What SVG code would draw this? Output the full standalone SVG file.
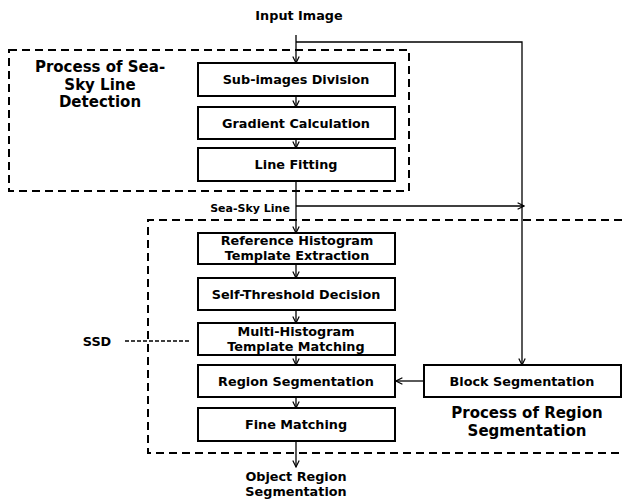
<svg xmlns="http://www.w3.org/2000/svg" width="622" height="500" viewBox="0 0 622 500">
<style>
text{font-family:"DejaVu Sans","Liberation Sans",sans-serif;font-weight:bold;fill:#000;text-anchor:middle}
.box{fill:#fff;stroke:#000;stroke-width:2}
.t{font-size:12.8px}
.title{font-size:15px}
.grp{fill:none;stroke:#000;stroke-width:2;stroke-dasharray:8 5}
.c{fill:none;stroke:#000;stroke-width:1.3}
</style>
<defs>
<marker id="a" viewBox="0 0 10 10" refX="9" refY="5" markerWidth="8" markerHeight="8" markerUnits="userSpaceOnUse" orient="auto">
<path d="M1,1 L9,5 L1,9" fill="none" stroke="#000" stroke-width="1.5"/>
</marker>
</defs>
<g id="groups">
<rect class="grp" x="9" y="50" width="400" height="141"/>
<path class="grp" d="M622,220 H148 V453 H622"/>
</g>
<g id="connectors">
<path class="c" d="M296,35 V63" marker-end="url(#a)"/>
<path class="c" d="M296,42 H522 V365" marker-end="url(#a)"/>
<path class="c" d="M296,96 V107" marker-end="url(#a)"/>
<path class="c" d="M296,139 V148" marker-end="url(#a)"/>
<path class="c" d="M296,181 V233" marker-end="url(#a)"/>
<path class="c" d="M296,206 H524" marker-end="url(#a)"/>
<path class="c" d="M296,264 V278" marker-end="url(#a)"/>
<path class="c" d="M296,310 V323" marker-end="url(#a)"/>
<path class="c" d="M296,355 V365" marker-end="url(#a)"/>
<path class="c" d="M296,397 V408" marker-end="url(#a)"/>
<path class="c" d="M296,441 V467" marker-end="url(#a)"/>
<path class="c" d="M424,381 H396" marker-end="url(#a)"/>
<path class="c" d="M125,341 H190" stroke-dasharray="4 2" stroke-width="1"/>
</g>
<g id="input"><text class="t" x="299" y="20">Input Image</text></g>
<g id="title1">
<text class="title" x="100" y="72">Process of Sea-</text>
<text class="title" x="100" y="89.5">Sky Line</text>
<text class="title" x="100" y="107">Detection</text>
</g>
<g id="subimages"><rect class="box" x="198" y="63" width="197" height="33"/><text class="t" x="296" y="84">Sub-images Division</text></g>
<g id="gradient"><rect class="box" x="198" y="107" width="197" height="32"/><text class="t" x="296" y="127.5">Gradient Calculation</text></g>
<g id="linefit"><rect class="box" x="198" y="148" width="197" height="33"/><text class="t" x="296" y="169">Line Fitting</text></g>
<g id="seasky"><text x="250" y="212" style="font-size:11px">Sea-Sky Line</text></g>
<g id="refhist"><rect class="box" x="198" y="233" width="197" height="31"/><text class="t" x="297" y="245">Reference Histogram</text><text class="t" x="297" y="260">Template Extraction</text></g>
<g id="selfthr"><rect class="box" x="198" y="278" width="197" height="32"/><text class="t" x="296" y="298.5">Self-Threshold Decision</text></g>
<g id="multihist"><rect class="box" x="198" y="323" width="197" height="32"/><text class="t" x="296" y="336">Multi-Histogram</text><text class="t" x="296" y="351">Template Matching</text></g>
<g id="regionseg"><rect class="box" x="198" y="365" width="197" height="32"/><text class="t" x="296" y="385.5">Region Segmentation</text></g>
<g id="finematch"><rect class="box" x="198" y="408" width="197" height="33"/><text class="t" x="296" y="429">Fine Matching</text></g>
<g id="blockseg"><rect class="box" x="424" y="365" width="197" height="32"/><text class="t" x="522" y="385.5">Block Segmentation</text></g>
<g id="title2">
<text class="title" x="527" y="418">Process of Region</text>
<text class="title" x="527" y="436">Segmentation</text>
</g>
<g id="ssd"><text class="t" x="97" y="346">SSD</text></g>
<g id="output">
<text class="t" x="296" y="481">Object Region</text>
<text class="t" x="296" y="496">Segmentation</text>
</g>
</svg>
